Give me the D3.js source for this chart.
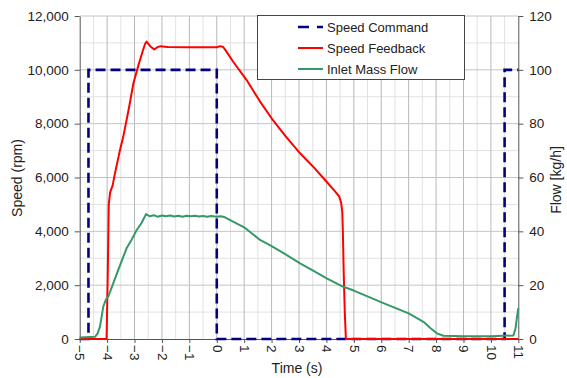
<!DOCTYPE html>
<html><head><meta charset="utf-8">
<script src="https://cdn.jsdelivr.net/npm/d3@7"></script>
<style>body{margin:0;background:#fff;} text{font-family:"Liberation Sans",Arial,sans-serif;fill:#222;}</style>
</head><body><svg id="c" width="567" height="378"></svg>
<script>
// ---- data ----
const xTicks = d3.range(-5, 12, 1);
const speedTicks = [0, 2000, 4000, 6000, 8000, 10000, 12000];
const flowTicks = [0, 20, 40, 60, 80, 100, 120];
const seriesNames = ["Speed Command", "Speed Feedback", "Inlet Mass Flow"];

const cmdTime  = [-5, -4.68, -4.68, 0, 0, 10.5, 10.5, 11];
const cmdSpeed = [0, 0, 10000, 10000, 0, 0, 10000, 10000];

const fbTime  = [-5, -4.02, -3.98, -3.94, -3.89, -3.8, -3.71, -3.53, -3.41, -3.2, -3.04, -2.85, -2.7, -2.62, -2.56, -2.48, -2.4, -2.28, -2.15, -2.05, -1.8, -1.0, 0.0, 0.12, 0.22, 0.3, 0.6, 1.09, 1.58, 2.0, 2.5, 3.04, 3.5, 4.0, 4.3, 4.47, 4.54, 4.58, 4.6, 4.63, 4.67, 4.71, 11];
const fbSpeed = [0, 0, 2200, 5000, 5450, 5700, 6170, 7020, 7520, 8600, 9500, 10200, 10700, 10950, 11050, 10950, 10850, 10760, 10850, 10880, 10850, 10840, 10840, 10880, 10860, 10760, 10300, 9620, 8820, 8200, 7550, 6900, 6420, 5850, 5500, 5290, 5050, 4700, 4000, 2500, 1000, 0, 0];

const flowTime  = [-5, -4.44, -4.35, -4.26, -4.14, -4.05, -3.96, -3.8, -3.6, -3.29, -3.1, -2.92, -2.75, -2.58, -2.45, -2.3, -2.15, -2.0, -1.85, -1.7, -1.55, -1.4, -1.25, -1.1, -0.95, -0.8, -0.65, -0.5, -0.35, -0.2, 0.0, 0.15, 0.3, 0.49, 1.0, 1.58, 2.0, 2.5, 3.04, 3.5, 4.01, 4.62, 5.0, 6.08, 7.0, 7.54, 7.8, 8.03, 8.27, 9.0, 10.0, 10.82, 10.9, 10.95, 11];
const flowValue = [0.6, 0.8, 2.0, 4.6, 12.0, 14.5, 15.7, 20.0, 25.5, 33.7, 37.0, 40.5, 43.0, 46.4, 45.6, 46.0, 45.4, 45.9, 45.6, 45.9, 45.5, 45.8, 45.4, 45.8, 45.6, 45.8, 45.5, 45.7, 45.4, 45.7, 45.4, 45.6, 45.2, 44.2, 41.5, 36.8, 34.5, 31.5, 28.1, 25.5, 22.5, 19.4, 18.0, 13.3, 9.5, 6.4, 4.0, 2.1, 1.2, 1.0, 1.0, 1.3, 4.0, 8.0, 11.5];

// ---- chart ----
const svg = d3.select("#c");
const L = 79.7, R = 518.3, T = 16, B = 339;
const x = d3.scaleLinear().domain([-5, 11]).range([L, R]);
const yS = d3.scaleLinear().domain([0, 12000]).range([B, T]);
const yF = d3.scaleLinear().domain([0, 120]).range([B, T]);

const g = svg.append("g");
// grid
g.selectAll(".vmin").data(d3.range(-4.5, 11, 1)).join("line")
  .attr("x1", d => x(d)).attr("x2", d => x(d)).attr("y1", T).attr("y2", B)
  .attr("stroke", "#e2e2e2").attr("stroke-width", 1);
g.selectAll(".hmin").data(d3.range(1000, 12000, 2000)).join("line")
  .attr("x1", L).attr("x2", R).attr("y1", d => yS(d)).attr("y2", d => yS(d))
  .attr("stroke", "#e2e2e2").attr("stroke-width", 1);
g.selectAll(".vmaj").data(xTicks.slice(1, -1)).join("line")
  .attr("x1", d => x(d)).attr("x2", d => x(d)).attr("y1", T).attr("y2", B)
  .attr("stroke", "#b8b8b8").attr("stroke-width", 1);
g.selectAll(".hmaj").data(speedTicks.slice(1)).join("line")
  .attr("x1", L).attr("x2", R).attr("y1", d => yS(d)).attr("y2", d => yS(d))
  .attr("stroke", "#c4c4c4").attr("stroke-width", 1);

// axes
const ax = svg.append("g").attr("transform", `translate(0,${B})`)
  .call(d3.axisBottom(x).tickValues(xTicks).tickSize(4).tickSizeOuter(0).tickFormat(d3.format("d")));
ax.selectAll("text").attr("transform", "rotate(90)").attr("text-anchor", "start")
  .attr("x", 6).attr("y", 0).attr("dy", "0.35em").style("font-size", "13.5px");
const al = svg.append("g").attr("transform", `translate(${L},0)`)
  .call(d3.axisLeft(yS).tickValues(speedTicks).tickSize(5).tickSizeOuter(0).tickFormat(d3.format(",")));
al.selectAll("text").style("font-size", "13.5px").attr("x", -11);
const ar = svg.append("g").attr("transform", `translate(${R},0)`)
  .call(d3.axisRight(yF).tickValues(flowTicks).tickSize(5).tickSizeOuter(0));
ar.selectAll("text").style("font-size", "13.5px").attr("x", 11);
[ax, al, ar].forEach(a => { a.selectAll("path,line").attr("stroke", "#555"); a.selectAll("text").attr("fill", "#222").style("font-family", '"Liberation Sans",Arial,sans-serif'); });

// titles
svg.append("text").attr("x", 297).attr("y", 373).attr("text-anchor", "middle").style("font-size", "14px").text("Time (s)");
svg.append("text").attr("transform", "translate(22,178) rotate(-90)").attr("text-anchor", "middle").style("font-size", "14px").text("Speed (rpm)");
svg.append("text").attr("transform", "translate(561,180) rotate(-90)").attr("text-anchor", "middle").style("font-size", "14px").text("Flow [kg/h]");

// lines
svg.append("clipPath").attr("id", "clip").append("rect").attr("x", L - 2).attr("y", T - 4).attr("width", R - L + 4).attr("height", B - T + 6);
const lg = svg.append("g").attr("clip-path", "url(#clip)");
const lineS = d3.line().x(d => x(d[0])).y(d => yS(d[1]));
const lineF = d3.line().x(d => x(d[0])).y(d => yF(d[1]));
const colors = ["#000080", "#ff0000", "#339966"];
lg.append("path").datum(d3.zip(cmdTime, cmdSpeed)).attr("d", lineS)
  .attr("fill", "none").attr("stroke", colors[0]).attr("stroke-width", 2.6).attr("stroke-dasharray", "10,5");
lg.append("path").datum(d3.zip(fbTime, fbSpeed)).attr("d", lineS)
  .attr("fill", "none").attr("stroke", colors[1]).attr("stroke-width", 2).attr("stroke-linejoin", "round");
lg.append("path").datum(d3.zip(flowTime, flowValue)).attr("d", lineF)
  .attr("fill", "none").attr("stroke", colors[2]).attr("stroke-width", 2).attr("stroke-linejoin", "round");

// legend
const leg = svg.append("g");
leg.append("rect").attr("x", 257.5).attr("y", 15.5).attr("width", 207).attr("height", 64)
  .attr("fill", "#fff").attr("stroke", "#444").attr("stroke-width", 1);
seriesNames.forEach((n, i) => {
  const yy = 27 + i * 21;
  leg.append("line").attr("x1", 298).attr("x2", 323).attr("y1", yy).attr("y2", yy)
    .attr("stroke", colors[i]).attr("stroke-width", i === 0 ? 2.5 : 2)
    .attr("stroke-dasharray", i === 0 ? "11,8" : null);
  leg.append("text").attr("x", 327).attr("y", yy + 4.5).style("font-size", "13px").text(n);
});
</script></body></html>
